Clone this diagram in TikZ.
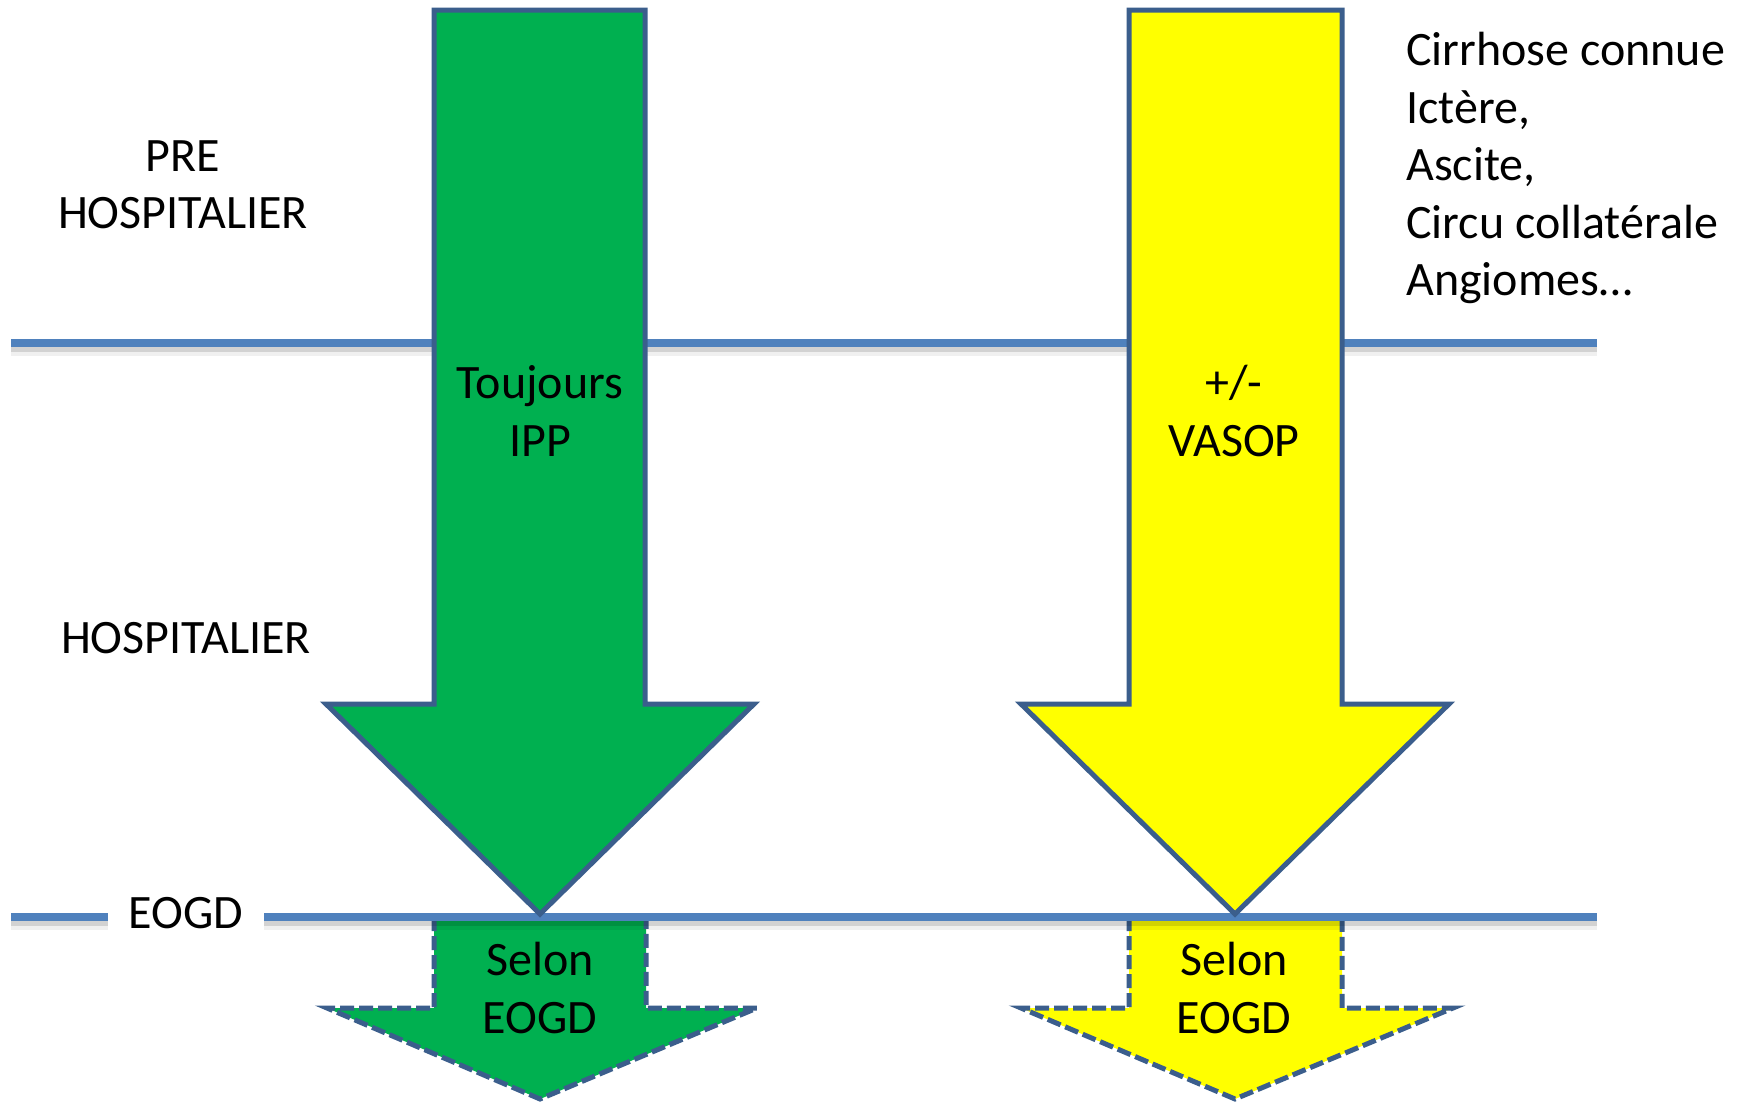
\documentclass[tikz,border=0pt]{standalone}
\usepackage{fontspec}
\setmainfont{Carlito}
\definecolor{lineblue}{HTML}{4F81BD}
\definecolor{edgeblue}{HTML}{3B5E8C}
\definecolor{pgreen}{HTML}{00B050}
\definecolor{pyellow}{HTML}{FFFF00}
\begin{document}
\begin{tikzpicture}[x=1pt,y=-1pt,
  lbl/.style={font=\fontsize{48}{57.5}\selectfont, align=center, inner sep=0pt},
  lbll/.style={font=\fontsize{48}{57.5}\selectfont, align=left, inner sep=0pt, anchor=west},
  sepline/.style={lineblue, line width=8pt},
  shadowline/.style={black, opacity=0.12, line width=8pt},
  shadowwide/.style={black, opacity=0.06, line width=12pt},
  bigarrow/.style={draw=edgeblue, line width=5pt, line join=miter},
  dasharrow/.style={draw=edgeblue, line width=5pt, dash pattern=on 14pt off 5pt, line join=miter}]
\useasboundingbox (0,0) rectangle (1739,1103);
\fill[white] (0,0) rectangle (1739,1103);

% lower (dashed) arrows
\path[fill=pgreen, dasharrow] (434,917) -- (434,1008) -- (327,1008) -- (540,1099) -- (757,1008) -- (646,1008) -- (646,917);
\path[fill=pyellow, dasharrow] (1129,917) -- (1129,1008) -- (1021,1008) -- (1235,1099) -- (1453,1008) -- (1342,1008) -- (1342,917);

% separator lines
\coordinate (l1a) at (11,343);
\coordinate (l1b) at (1597,343);
\coordinate (l2a) at (11,917);
\coordinate (l2b) at (1597,917);
\node[lbl, inner xsep=21pt] (eogd) at (186,913) {EOGD};
\foreach \st/\dy in {shadowwide/7, shadowline/5}{
  \draw[\st] ([yshift=-\dy pt]l1a) -- ([yshift=-\dy pt]l1b);
  \draw[\st] ([yshift=-\dy pt]l2a) -- ([yshift=-\dy pt]eogd.west |- l2a);
  \draw[\st] ([yshift=-\dy pt]eogd.east |- l2a) -- ([yshift=-\dy pt]l2b);
}
\draw[sepline] (l1a) -- (l1b);
\draw[sepline] (l2a) -- (eogd.west |- l2a);
\draw[sepline] (eogd.east |- l2a) -- (l2b);

% upper arrows
\path[fill=pgreen, bigarrow] (434,10) -- (645,10) -- (645,704) -- (754,704) -- (540,914) -- (326,704) -- (434,704) -- cycle;
\path[fill=pyellow, bigarrow] (1129,10) -- (1342,10) -- (1342,704) -- (1449,704) -- (1235,914) -- (1021,704) -- (1129,704) -- cycle;

% labels
\node[lbl] (pre) at (183,185) {PRE\\HOSPITALIER};
\node[lbl] (hosp) at (186,638) {HOSPITALIER};
\node[lbl] (ipp) at (540,411) {Toujours\\IPP};
\node[lbl] (vasop) at (1234,411) {+/-\\VASOP};
\node[lbl] (selg) at (540,988) {Selon\\EOGD};
\node[lbl] (sely) at (1234,988) {Selon\\EOGD};
\node[lbll] (cirr) at (1406,168) {Cirrhose connue\\Ictère,\\Ascite,\\Circu collatérale\\Angiomes…};
\end{tikzpicture}
\end{document}
